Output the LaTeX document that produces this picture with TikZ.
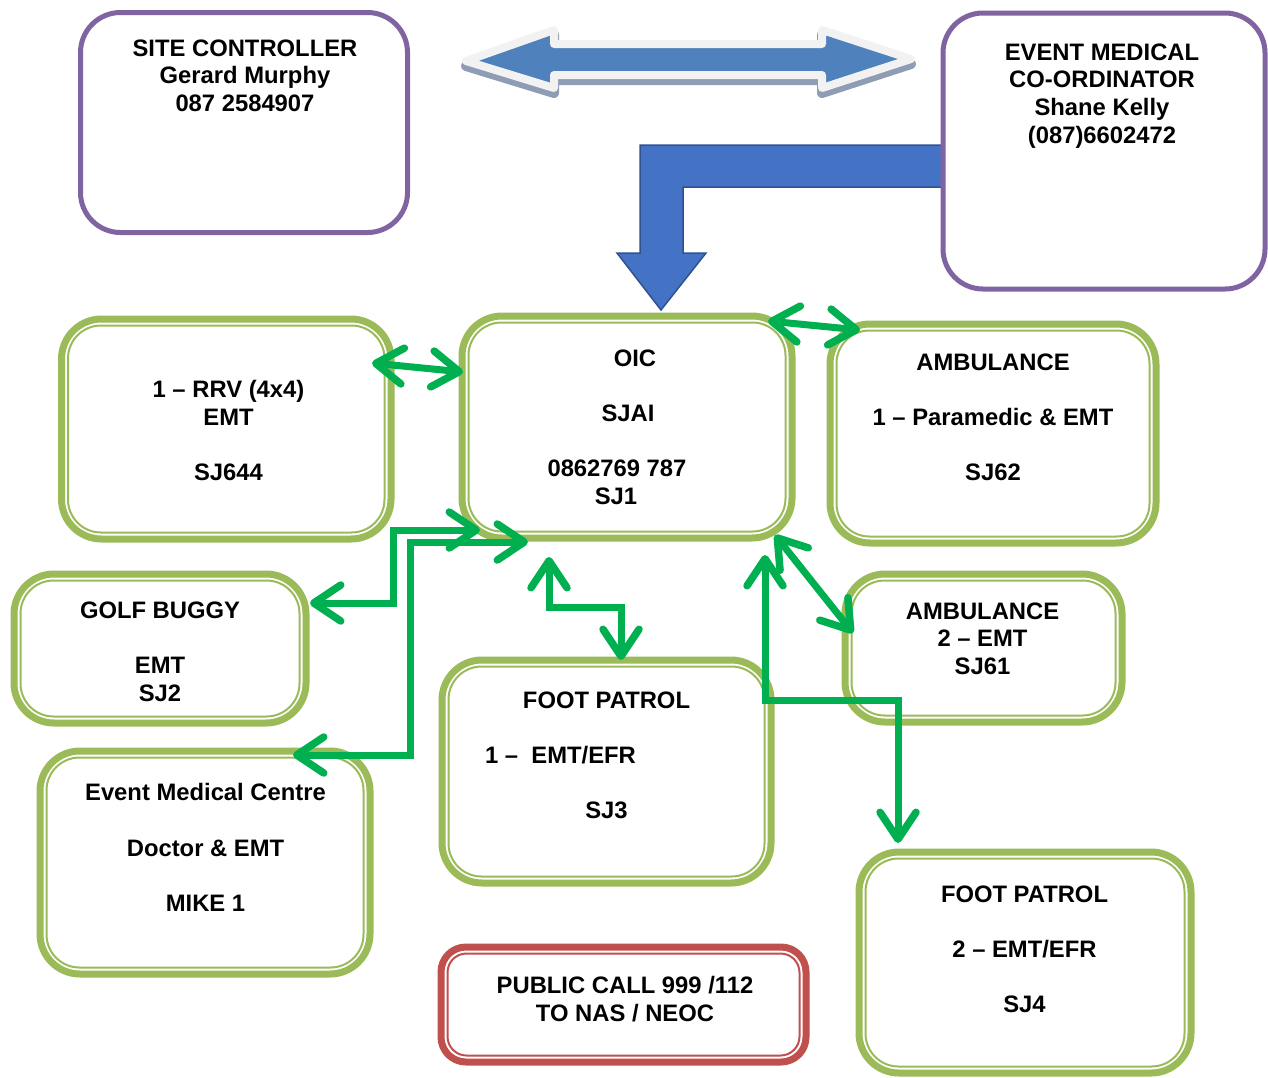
\documentclass[tikz,border=0pt]{standalone}
\usepackage{fontspec}
\setmainfont{Liberation Sans}
\usetikzlibrary{arrows.meta,calc,fit}
\definecolor{gfr}{HTML}{9BBB59}
\definecolor{purp}{HTML}{8064A2}
\definecolor{redb}{HTML}{C0504D}
\definecolor{arr}{HTML}{00B050}
\definecolor{blueA}{HTML}{4F81BD}
\definecolor{blueB}{HTML}{4472C4}
\definecolor{blueBd}{HTML}{2F528F}
\definecolor{shad}{HTML}{8E9DB3}
\definecolor{lgray}{HTML}{F2F2F2}
\tikzset{
  lbl/.style={font=\fontsize{23.8}{27.6}\selectfont\bfseries, align=center, anchor=north, inner sep=0pt},
  conn/.style={arr, line width=7pt, line cap=round, line join=miter,
    {Straight Barb[length=27pt,width=36pt,line width=7.5pt 0,round]}-{Straight Barb[length=27pt,width=36pt,line width=7.5pt 0,round]}},
}
% name, corner1, corner2, colour, outer radius, inner radius
\newcommand\dblbox[6]{%
  \coordinate (#1-a) at #2; \coordinate (#1-b) at #3;
  \node[fit=(#1-a)(#1-b), inner sep=0pt, outer sep=0pt, draw=#4, line width=7pt, fill=white, rounded corners=#5] (#1) {};
  \draw[#4, line width=2pt, rounded corners=#6] ($(#1.south west)+(6.5,-6.5)$) rectangle ($(#1.north east)+(-6.5,6.5)$);
}
\newcommand\purbox[3]{%
  \coordinate (#1-a) at #2; \coordinate (#1-b) at #3;
  \node[fit=(#1-a)(#1-b), inner sep=0pt, outer sep=0pt, draw=purp, line width=5pt, fill=white, rounded corners=40pt] (#1) {};
}
\begin{document}
\begin{tikzpicture}[x=1pt,y=-1pt]
\useasboundingbox (0,0) rectangle (1268,1077);
\fill[white] (0,0) rectangle (1268,1077);

% double arrow
\begin{scope}[yshift=-5pt]
\filldraw[shad, line width=10pt, line join=round] (466,61) -- (554,30) -- (554,44) -- (822,44) -- (822,30) -- (911,59) -- (822,88) -- (822,75) -- (554,75) -- (554,88) -- cycle;
\end{scope}
\filldraw[fill=blueA, draw=lgray, line width=8pt, line join=round] (466,61) -- (554,30) -- (554,44) -- (822,44) -- (822,30) -- (911,59) -- (822,88) -- (822,75) -- (554,75) -- (554,88) -- cycle;

% bent arrow
\filldraw[fill=blueB, draw=blueBd, line width=1.5pt] (948,145) -- (640,145) -- (640,253) -- (617,253) -- (661,310) -- (706,253) -- (683,253) -- (683,187) -- (948,187) -- cycle;

% purple boxes
\purbox{site}{(80.5,12.5)}{(407.5,232.5)}
\purbox{emc}{(943,13)}{(1265,289)}

% green boxes
\dblbox{rrv}{(61.5,319)}{(391,539)}{gfr}{40pt}{33pt}
\dblbox{oic}{(462,316)}{(792,538)}{gfr}{40pt}{33pt}
\dblbox{amb1}{(830,324)}{(1156,543)}{gfr}{40pt}{33pt}
\dblbox{golf}{(14,574)}{(306,723)}{gfr}{40pt}{33pt}
\dblbox{amb2}{(845,574)}{(1122,722)}{gfr}{40pt}{33pt}
\dblbox{fp1}{(442,660)}{(771,883)}{gfr}{40pt}{33pt}
\dblbox{emcc}{(40,751)}{(370,974)}{gfr}{40pt}{33pt}
\dblbox{fp2}{(859,852)}{(1191,1073)}{gfr}{40pt}{33pt}
\dblbox{pub}{(441,947)}{(806,1062)}{redb}{25pt}{19pt}

% texts
\node[lbl] (sitet) at (245,39.5) {SITE CONTROLLER\\Gerard Murphy\\087 2584907};
\node[lbl] (emct) at (1102,43.5) {EVENT MEDICAL\\CO-ORDINATOR\\Shane Kelly\\(087)6602472};
\node[lbl] (rrvt) at (228.5,380.5) {1 – RRV (4x4)\\EMT\\[27.6pt]SJ644};
\node[lbl] (oict) at (616,349.5) {\hspace*{38pt}OIC\\[27.6pt]\hspace*{24pt}SJAI\\[27.6pt]\hspace*{2pt}0862769 787\\SJ1};
\node[lbl] (amb1t) at (993,353.5) {AMBULANCE\\[27.6pt]1 – Paramedic \& EMT\\[27.6pt]SJ62};
\node[lbl] (golft) at (160,601.5) {GOLF BUGGY\\[27.6pt]EMT\\SJ2};
\node[lbl] (amb2t) at (982.5,602.5) {AMBULANCE\\2 – EMT\\SJ61};
\node[lbl] (fp1t) at (606.5,691.5) {FOOT PATROL\\[27.6pt]\mbox{1 –~~EMT/EFR\hspace{92pt}}\\[27.6pt]SJ3};
\node[lbl] (emcct) at (205.5,783.5) {Event Medical Centre\\[27.6pt]Doctor \& EMT\\[27.6pt]MIKE 1};
\node[lbl] (fp2t) at (1024.5,885.5) {FOOT PATROL\\[27.6pt]2 – EMT/EFR\\[27.6pt]SJ4};
\node[lbl] (pubt) at (625,976.5) {PUBLIC CALL 999 /112\\TO NAS / NEOC};

% connectors
\coordinate (rrvE) at (372,363); \coordinate (oicW) at (463,372);
\coordinate (oicNE) at (768,321); \coordinate (amb1W) at (860,330);
\coordinate (golfE) at (310,603); \coordinate (oicSW1) at (480,530);
\coordinate (emccN) at (293,755); \coordinate (oicSW2) at (528,542);
\coordinate (oicS1) at (549,557); \coordinate (fp1N) at (621,660);
\coordinate (oicS2) at (765,555); \coordinate (fp2N) at (898,843);
\coordinate (oicSE) at (775,535); \coordinate (amb2W) at (853,633);

\draw[conn] (rrvE) -- (oicW);
\draw[conn] (oicNE) -- (amb1W);
\draw[conn] (golfE) -- ++(83,0) |- (oicSW1);
\draw[conn] (emccN) -- ++(117,0) |- (oicSW2);
\draw[conn] (oicS1) -- ++(0,50) -| (fp1N);
\draw[conn] (oicS2) -- ++(0,145) -| (fp2N);
\draw[conn] (oicSE) -- (amb2W);
\end{tikzpicture}
\end{document}
